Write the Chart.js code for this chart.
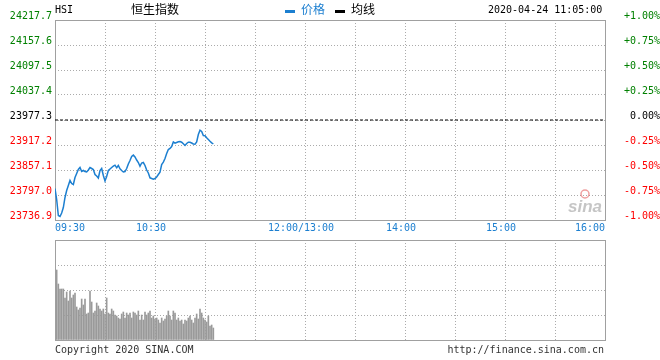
<!DOCTYPE html>
<html>
<head>
<meta charset="utf-8">
<script src="https://cdn.jsdelivr.net/npm/chart.js@4/dist/chart.umd.min.js"></script>
<style>
  body { margin: 0; background: #fff; width: 660px; height: 360px; position: relative; overflow: hidden;
         font-family: "DejaVu Sans Mono", monospace; }
  canvas { position: absolute; left: 0; }
  #main { top: 0; }
  #vol  { top: 230px; }
  .t   { position: absolute; white-space: nowrap; font-size: 10px; line-height: 12px; color: #000; }
  .cjk { font-family: "Noto Sans CJK SC", sans-serif; font-size: 12px; line-height: 14px; }
  .bar { position: absolute; width: 10px; height: 3px; }
</style>
</head>
<body>
<canvas id="main" width="660" height="240"></canvas>
<canvas id="vol" width="660" height="120"></canvas>

<div class="t" style="left:55px;top:4px">HSI</div>
<div class="t cjk" style="left:131px;top:2px">恒生指数</div>
<div class="bar" style="left:285px;top:10px;background:#1c7fd0"></div>
<div class="t cjk" style="left:301px;top:2px;color:#1c7fd0">价格</div>
<div class="bar" style="left:335px;top:10px;background:#000"></div>
<div class="t cjk" style="left:351px;top:2px">均线</div>
<div class="t" style="left:488px;top:4px">2020-04-24 11:05:00</div>
<div class="t" style="left:55px;top:344px;color:#333">Copyright 2020 SINA.COM</div>
<div class="t" style="right:56px;top:344px;color:#333">http://finance.sina.com.cn</div>

<script>
'use strict';

// ── Data ──────────────────────────────────────────────────────────────────────
const PREV_CLOSE  = 23977.3;
const PRICE_TICKS = [24217.7, 24157.6, 24097.5, 24037.4, 23977.3, 23917.2, 23857.1, 23797.0, 23736.9];
const PCT_TICKS   = [1, 0.75, 0.5, 0.25, 0, -0.25, -0.5, -0.75, -1];
const X_TICK_MIN  = [0, 60, 150, 210, 270, 330];            // trading minutes from 09:30
const X_TICK_TEXT = ['09:30', '10:30', '12:00/13:00', '14:00', '15:00', '16:00'];

// price: one value per minute, 09:30 .. 11:05
const PRICE = [
  23812.6, 23786.2, 23747.7, 23745.3, 23753.7, 23766.9, 23791.0, 23807.8, 23819.8, 23831.9,
  23824.6, 23822.2, 23839.1, 23848.7, 23858.3, 23863.1, 23853.5, 23855.9, 23853.5, 23852.3,
  23857.1, 23863.1, 23860.7, 23858.3, 23846.3, 23842.7, 23837.9, 23855.9, 23860.7, 23843.9,
  23830.7, 23841.5, 23855.9, 23859.5, 23863.1, 23866.2, 23868.6, 23862.4, 23867.9, 23860.0,
  23855.9, 23852.3, 23853.5, 23860.7, 23871.5, 23879.9, 23889.6, 23893.2, 23888.4, 23881.1,
  23875.1, 23866.2, 23873.9, 23875.1, 23867.9, 23857.1, 23849.9, 23838.3, 23836.7, 23835.0,
  23836.7, 23840.3, 23846.3, 23851.8, 23870.3, 23875.9, 23884.7, 23896.8, 23906.4, 23908.8,
  23913.6, 23924.4, 23921.5, 23923.2, 23924.9, 23925.6, 23923.9, 23920.1, 23916.0, 23920.8,
  23923.9, 23923.9, 23922.0, 23919.6, 23919.1, 23924.4, 23942.4, 23952.8, 23949.7, 23940.0,
  23939.3, 23934.5, 23930.4, 23926.3, 23922.5, 23920.1
];

// volume: one bar per completed minute, 09:31 .. 11:05
const VOLUME = [
  70, 56, 51, 51, 51, 42, 48, 39, 49, 42,
  45, 47, 33, 30, 32, 41, 35, 41, 26, 27,
  49, 38, 27, 29, 37, 34, 31, 29, 31, 26,
  42, 27, 26, 31, 29, 25, 24, 22, 21, 26,
  28, 22, 27, 25, 27, 22, 28, 27, 25, 29,
  20, 25, 20, 28, 25, 27, 29, 22, 24, 21,
  22, 20, 17, 22, 19, 21, 24, 29, 24, 20,
  29, 27, 20, 22, 19, 20, 16, 20, 19, 22,
  24, 20, 17, 22, 26, 21, 31, 27, 22, 20,
  18, 24, 14, 15, 12
];

// ── Style ─────────────────────────────────────────────────────────────────────
const BLUE  = '#1c7fd0';
const GREEN = '#008000';
const RED   = '#ff0000';
const GRID  = '#ababab';
const FRAME = '#a0a0a0';
const MONO  = '"DejaVu Sans Mono", monospace';

function tickColor(v) {
  if (Math.abs(v) < 1e-6) return '#000';
  return v > 0 ? GREEN : RED;
}

// ── Plugins ───────────────────────────────────────────────────────────────────
const frame = {
  id: 'frame',
  beforeDatasetsDraw(chart) {
    const { ctx, chartArea: a } = chart;
    ctx.save();
    ctx.strokeStyle = FRAME;
    ctx.lineWidth = 1;
    ctx.strokeRect(a.left + 0.5, a.top + 0.5, a.right - a.left, a.bottom - a.top);
    ctx.restore();
  }
};

const timeLabels = {
  id: 'timeLabels',
  afterDraw(chart) {
    const { ctx, scales: { x } } = chart;
    const last = X_TICK_MIN.length - 1;
    ctx.save();
    ctx.font = '10px ' + MONO;
    ctx.fillStyle = BLUE;
    ctx.textBaseline = 'middle';
    X_TICK_MIN.forEach((m, i) => {
      const px = x.getPixelForValue(m);
      if (i === 0)        { ctx.textAlign = 'left';   ctx.fillText(X_TICK_TEXT[i], px, 228); }
      else if (i === last){ ctx.textAlign = 'right';  ctx.fillText(X_TICK_TEXT[i], px, 228); }
      else                { ctx.textAlign = 'center'; ctx.fillText(X_TICK_TEXT[i], px - 4, 228); }
    });
    ctx.restore();
  }
};

const watermark = {
  id: 'watermark',
  beforeDatasetsDraw(chart) {
    const { ctx, chartArea: a } = chart;
    ctx.save();
    ctx.strokeStyle = 'rgba(225,80,80,0.55)';
    ctx.lineWidth = 1.5;
    ctx.beginPath();
    ctx.arc(a.right - 20, a.bottom - 26, 4, 0, Math.PI * 2);
    ctx.stroke();
    ctx.font = 'italic bold 17px "Liberation Sans", sans-serif';
    ctx.fillStyle = 'rgba(150,150,150,0.55)';
    ctx.textAlign = 'right';
    ctx.textBaseline = 'alphabetic';
    ctx.fillText('sina', a.right - 3, a.bottom - 8);
    ctx.restore();
  }
};

// ── Main price chart ──────────────────────────────────────────────────────────
new Chart(document.getElementById('main'), {
  type: 'line',
  data: {
    datasets: [
      {
        data: PRICE.map((v, i) => ({ x: i, y: v })),
        borderColor: BLUE,
        borderWidth: 1.5,
        pointRadius: 0,
        tension: 0,
        yAxisID: 'y'
      },
      {
        data: [{ x: X_TICK_MIN[0], y: PREV_CLOSE }, { x: X_TICK_MIN[X_TICK_MIN.length - 1], y: PREV_CLOSE }],
        borderColor: '#000',
        borderWidth: 1,
        borderDash: [3, 2],
        pointRadius: 0,
        yAxisID: 'y'
      }
    ]
  },
  options: {
    responsive: false,
    animation: false,
    layout: { padding: { top: 20, left: 0, right: 0, bottom: 0 } },
    plugins: { legend: { display: false }, tooltip: { enabled: false } },
    scales: {
      x: {
        type: 'linear',
        min: 0, max: 330,
        ticks: { display: false, stepSize: 30 },
        grid: { color: GRID, drawTicks: false },
        border: { display: false, dash: [1, 2] },
        afterFit: s => { s.height = 20; }
      },
      y: {
        position: 'left',
        min: PRICE_TICKS[PRICE_TICKS.length - 1],
        max: PRICE_TICKS[0],
        afterBuildTicks: s => { s.ticks = PRICE_TICKS.map(v => ({ value: v })); },
        ticks: {
          autoSkip: false,
          padding: 3,
          labelOffset: -4,
          font: { family: MONO, size: 10 },
          color: c => tickColor(c.tick.value - PREV_CLOSE),
          callback: v => v.toFixed(1)
        },
        grid: { color: GRID, drawTicks: false },
        border: { display: false, dash: [1, 2] },
        afterFit: s => { s.width = 55; }
      },
      y1: {
        position: 'right',
        min: -1, max: 1,
        afterBuildTicks: s => { s.ticks = PCT_TICKS.map(v => ({ value: v })); },
        ticks: {
          autoSkip: false,
          padding: 2,
          labelOffset: -4,
          crossAlign: 'far',
          font: { family: MONO, size: 10 },
          color: c => tickColor(c.tick.value),
          callback: v => (v > 0 ? '+' : '') + v.toFixed(2) + '%'
        },
        grid: { display: false, drawTicks: false },
        border: { display: false },
        afterFit: s => { s.width = 55; }
      }
    }
  },
  plugins: [frame, watermark, timeLabels]
});

// ── Volume chart ──────────────────────────────────────────────────────────────
new Chart(document.getElementById('vol'), {
  type: 'bar',
  data: {
    datasets: [{
      data: VOLUME.map((v, i) => ({ x: i + 1, y: v })),
      backgroundColor: '#9a9a9a',
      barThickness: 1
    }]
  },
  options: {
    responsive: false,
    animation: false,
    layout: { padding: { top: 10, left: 0, right: 55, bottom: 0 } },
    plugins: { legend: { display: false }, tooltip: { enabled: false } },
    scales: {
      x: {
        type: 'linear',
        min: 0, max: 330,
        offset: false,
        ticks: { display: false, stepSize: 30 },
        grid: { color: GRID, drawTicks: false, offset: false },
        border: { display: false, dash: [1, 2] },
        afterFit: s => { s.height = 10; }
      },
      y: {
        min: 0, max: 100,
        ticks: { display: false, stepSize: 25 },
        grid: { color: GRID, drawTicks: false },
        border: { display: false, dash: [1, 2] },
        afterFit: s => { s.width = 55; }
      }
    }
  },
  plugins: [frame]
});
</script>
</body>
</html>
